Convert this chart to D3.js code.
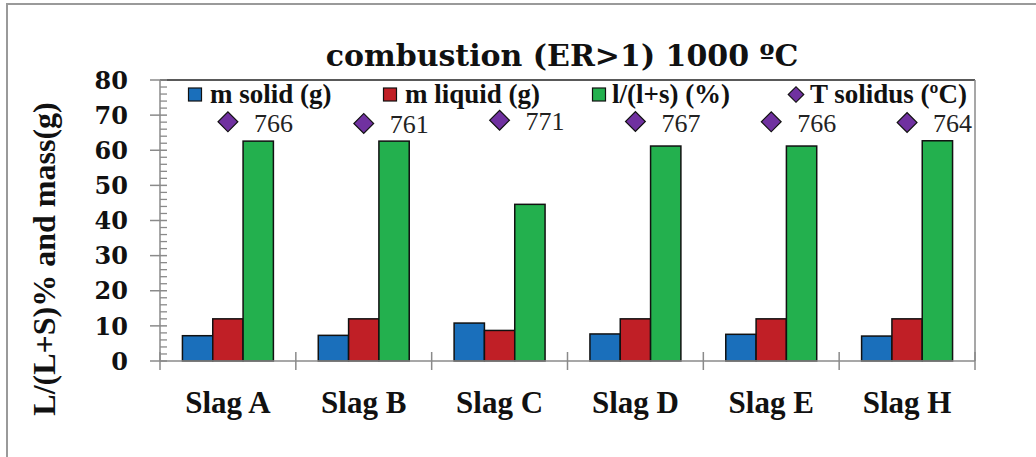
<!DOCTYPE html>
<html>
<head>
<meta charset="utf-8">
<script src="https://cdn.jsdelivr.net/npm/d3@7"></script>
<style>
  html, body { margin: 0; padding: 0; background: #fff; }
  svg { display: block; }
</style>
</head>
<body>
<svg id="chart" width="1036" height="457"></svg>
<script>
// Slag samples and measured quantities after combustion at 1000 ºC
const categories = ["Slag A", "Slag B", "Slag C", "Slag D", "Slag E", "Slag H"];
const mSolid = [7.2, 7.3, 10.8, 7.7, 7.6, 7.1];          // m solid (g)
const mLiquid = [12.0, 12.0, 8.7, 12.0, 12.0, 12.0];     // m liquid (g)
const liquidRatio = [62.6, 62.6, 44.6, 61.2, 61.2, 62.7]; // l/(l+s) (%)
const tSolidus = [766, 761, 771, 767, 766, 764];          // T solidus (ºC)
const yTicks = [0, 10, 20, 30, 40, 50, 60, 70, 80];
const seriesNames = ["m solid (g)", "m liquid (g)", "l/(l+s) (%)"];
const seriesColors = ["#1a6fbb", "#c01f26", "#23b04e"];
const markerName = "T solidus (ºC)";
const markerColor = "#7031a0";

const svg = d3.select("#chart");
const W = 1036, H = 457;
const plot = { left: 160, right: 975, top: 80, bottom: 361 };
const axisGray = "#8a8a8a";

// outer frame (top and left edges)
svg.append("path")
  .attr("d", `M7,${H} L7,4 L${W},4`)
  .attr("fill", "none").attr("stroke", "#9a9a9a").attr("stroke-width", 2);

// scales
const x = d3.scaleBand().domain(categories).range([plot.left, plot.right]).paddingInner(0).paddingOuter(0);
const xs = d3.scaleBand().domain(d3.range(3)).range([0, x.bandwidth()]).paddingInner(0).paddingOuter(0.74);
const y = d3.scaleLinear().domain([0, 80]).range([plot.bottom, plot.top]);
const y2 = d3.scaleLinear().domain([0, 900]).range([plot.bottom, plot.top]); // hidden secondary axis for T solidus

// plot area border: top (dark) and right (gray)
svg.append("line").attr("x1", plot.left).attr("x2", plot.right).attr("y1", plot.top).attr("y2", plot.top)
  .attr("stroke", "#222").attr("stroke-width", 1.5);
svg.append("line").attr("x1", plot.right).attr("x2", plot.right).attr("y1", plot.top).attr("y2", plot.bottom)
  .attr("stroke", axisGray).attr("stroke-width", 1.5);

// bars
const seriesData = [mSolid, mLiquid, liquidRatio];
seriesData.forEach((vals, si) => {
  svg.append("g").selectAll("rect").data(vals).join("rect")
    .attr("x", (d, i) => x(categories[i]) + xs(si))
    .attr("y", d => y(d))
    .attr("width", xs.bandwidth())
    .attr("height", d => y(0) - y(d))
    .attr("fill", seriesColors[si])
    .attr("stroke", "#111")
    .attr("stroke-width", 1.5);
});

// y axis with minor ticks inside
const yAxisG = svg.append("g").attr("transform", `translate(${plot.left},0)`);
yAxisG.append("line").attr("y1", plot.top).attr("y2", plot.bottom).attr("stroke", axisGray).attr("stroke-width", 1.5);
const minor = d3.range(0, 81, 2).filter(v => v % 10 !== 0);
yAxisG.selectAll("line.minor").data(minor).join("line").attr("class", "minor")
  .attr("x1", 0).attr("x2", 7).attr("y1", d => y(d)).attr("y2", d => y(d))
  .attr("stroke", axisGray).attr("stroke-width", 1.3);
yAxisG.selectAll("line.major").data(yTicks).join("line").attr("class", "major")
  .attr("x1", -10).attr("x2", 7).attr("y1", d => y(d)).attr("y2", d => y(d))
  .attr("stroke", axisGray).attr("stroke-width", 1.5);
yAxisG.selectAll("text").data(yTicks).join("text")
  .attr("x", -32).attr("y", d => y(d)).attr("dy", "0.36em")
  .attr("text-anchor", "end")
  .attr("font-family", "DejaVu Serif").attr("font-weight", "bold").attr("font-size", 24)
  .attr("fill", "#111").text(d => d);

// x axis with category separators
const xAxisG = svg.append("g");
xAxisG.append("line").attr("x1", plot.left).attr("x2", plot.right).attr("y1", plot.bottom).attr("y2", plot.bottom)
  .attr("stroke", axisGray).attr("stroke-width", 1.5);
const bounds = categories.map(c => x(c)).concat([plot.right]);
xAxisG.selectAll("line.sep").data(bounds).join("line").attr("class", "sep")
  .attr("x1", d => d).attr("x2", d => d).attr("y1", plot.bottom - 9).attr("y2", plot.bottom + 9)
  .attr("stroke", axisGray).attr("stroke-width", 1.5);
xAxisG.selectAll("text").data(categories).join("text")
  .attr("x", d => x(d) + x.bandwidth() / 2).attr("y", 413)
  .attr("text-anchor", "middle")
  .attr("font-family", "Liberation Serif").attr("font-weight", "bold").attr("font-size", 31)
  .attr("fill", "#111").text(d => d);

// T solidus markers and their value labels
const mk = svg.append("g");
tSolidus.forEach((v, i) => {
  const cx = x(categories[i]) + x.bandwidth() / 2;
  const cy = y2(v);
  mk.append("path")
    .attr("d", d3.symbol().type(d3.symbolSquare).size(196)())
    .attr("transform", `translate(${cx},${cy}) rotate(45)`)
    .attr("fill", markerColor).attr("stroke", "#111").attr("stroke-width", 1.2);
  mk.append("text").attr("x", cx + 26).attr("y", cy + 10)
    .attr("font-family", "Liberation Serif").attr("font-size", 26)
    .attr("fill", "#222").text(v);
});

// title
svg.append("text").attr("x", 562).attr("y", 66).attr("text-anchor", "middle")
  .attr("font-family", "DejaVu Serif").attr("font-weight", "bold").attr("font-size", 30)
  .attr("fill", "#111").text("combustion (ER>1) 1000 ºC");

// y axis title
svg.append("text").attr("transform", "translate(55,259) rotate(-90)").attr("text-anchor", "middle")
  .attr("font-family", "Liberation Serif").attr("font-weight", "bold").attr("font-size", 32)
  .attr("fill", "#111").text("L/(L+S)% and mass(g)");

// legend
const legendItems = [
  { name: seriesNames[0], color: seriesColors[0], shape: "square", sx: 195, tx: 210 },
  { name: seriesNames[1], color: seriesColors[1], shape: "square", sx: 390, tx: 405 },
  { name: seriesNames[2], color: seriesColors[2], shape: "square", sx: 599, tx: 612 },
  { name: markerName, color: markerColor, shape: "diamond", sx: 796, tx: 810 }
];
const lg = svg.append("g");
legendItems.forEach(it => {
  if (it.shape === "square") {
    lg.append("rect").attr("x", it.sx - 6.5).attr("y", 88).attr("width", 13).attr("height", 13)
      .attr("fill", it.color).attr("stroke", "#111").attr("stroke-width", 1.2);
  } else {
    lg.append("path").attr("d", d3.symbol().type(d3.symbolSquare).size(120)())
      .attr("transform", `translate(${it.sx},94.5) rotate(45)`)
      .attr("fill", it.color).attr("stroke", "#111").attr("stroke-width", 1.2);
  }
  lg.append("text").attr("x", it.tx).attr("y", 103)
    .attr("font-family", "Liberation Serif").attr("font-weight", "bold").attr("font-size", 27)
    .attr("fill", "#111").text(it.name);
});
</script>
</body>
</html>
